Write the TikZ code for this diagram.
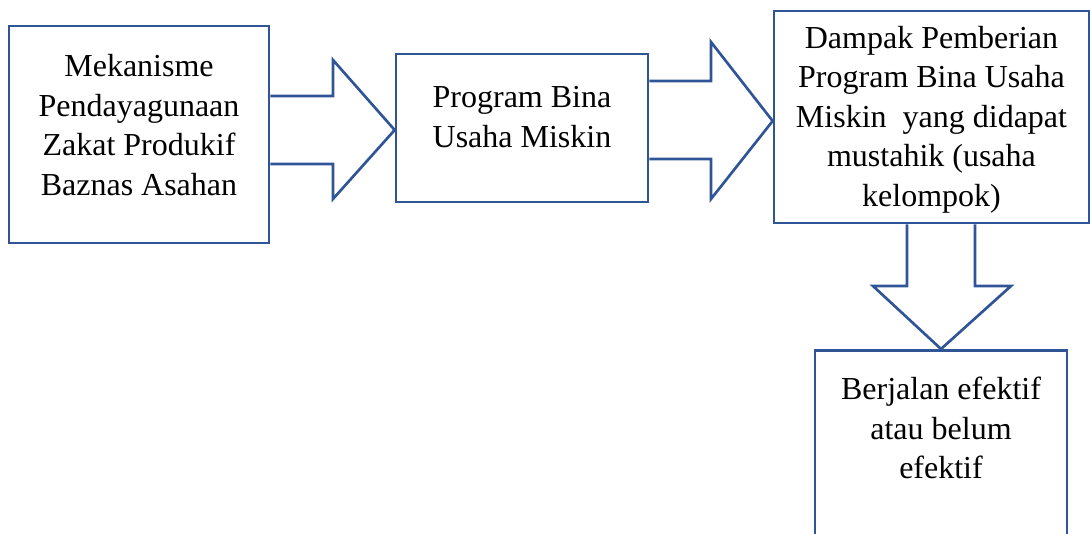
\documentclass[tikz,border=0pt]{standalone}
\usepackage{fontspec}
\setmainfont{Liberation Serif}
\usetikzlibrary{calc}
\definecolor{garis}{HTML}{2F5597}
\tikzset{
	kotak/.style={draw=garis, line width=2pt, inner sep=0pt},
	teks/.style={align=center, inner sep=0pt, font=\fontsize{24}{29.6}\selectfont},
	panah/.style={draw=garis, line width=2pt, line join=miter}
}
\begin{document}
\begin{tikzpicture}[x=0.75pt,y=-0.75pt]
	\useasboundingbox (0,0) rectangle (1090,533);
	\clip (0,0) rectangle (1090,533);
	% kotak
	\node[kotak, minimum width=195pt, minimum height=162.75pt] (mekanisme) at (139,134.5) {};
	\node[kotak, minimum width=189pt, minimum height=111pt] (program) at (522,128) {};
	\node[kotak, minimum width=236.25pt, minimum height=159pt] (dampak) at (931.5,117) {};
	\node[kotak, minimum width=189pt, minimum height=187.5pt, anchor=north] (hasil) at (941,349) {};
	% teks
	\node[teks] (tmekanisme) at ($(mekanisme.center)+(0,-9.5)$) {Mekanisme\\Pendayagunaan\\Zakat Produkif\\Baznas Asahan};
	\node[teks] (tprogram) at ($(program.center)+(0,-11)$) {Program Bina\\Usaha Miskin};
	\node[teks] (tdampak) at ($(dampak.center)+(0,2.5)$) {Dampak Pemberian\\Program Bina Usaha\\Miskin\ \ yang didapat\\mustahik (usaha\\kelompok)};
	\node[teks] (thasil) at ($(hasil.north)+(0,79)$) {Berjalan efektif\\atau belum\\efektif};
	% panah
	\draw[panah] (mekanisme.east |- 0,96) -- (333,96) -- (333,60) -- (program.west |- 0,130) -- (333,199) -- (333,164) -- (mekanisme.east |- 0,164);
	\draw[panah] (program.east |- 0,81) -- (711,81) -- (711,42) -- (dampak.west |- 0,121) -- (711,199) -- (711,159) -- (program.east |- 0,159);
	\draw[panah] (907,0 |- dampak.south) -- (907,286) -- (873,286) -- (hasil.north) -- (1011,286) -- (975,286) -- (975,0 |- dampak.south);
\end{tikzpicture}
\end{document}
